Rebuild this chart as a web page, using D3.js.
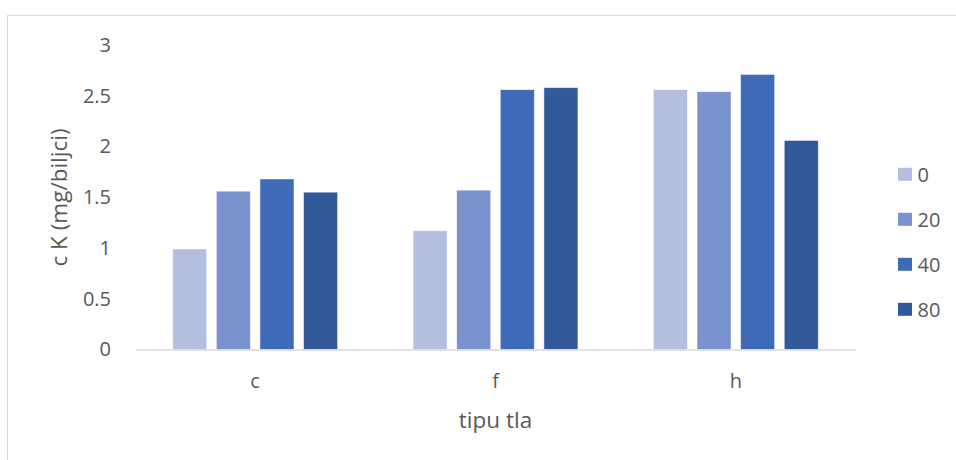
<!DOCTYPE html>
<html>
<head>
<meta charset="utf-8">
<script src="https://cdn.jsdelivr.net/npm/d3@7"></script>
<style>
  html, body { margin: 0; padding: 0; background: #fff; }
  svg { display: block; }
  text { font-family: "Open Sans", "Noto Sans", sans-serif; fill: #595959; }
</style>
</head>
<body>
<svg id="chart" width="956" height="460"></svg>
<script>
const categories = ["c", "f", "h"];
const seriesNames = ["0", "20", "40", "80"];
const series0 = [0.99, 1.17, 2.56];
const series20 = [1.56, 1.57, 2.54];
const series40 = [1.68, 2.56, 2.71];
const series80 = [1.55, 2.58, 2.06];
const yTicks = [0, 0.5, 1, 1.5, 2, 2.5, 3];
const colors = ["#B4BFDF", "#7A93CF", "#3F6AB7", "#325A9A"];

const seriesValues = [series0, series20, series40, series80];
const data = categories.map((c, i) => ({
  cat: c,
  vals: seriesNames.map((s, j) => ({ key: s, idx: j, value: seriesValues[j][i] }))
}));

const svg = d3.select("#chart");

// outer chart border
svg.append("rect")
  .attr("x", 7.5).attr("y", 15.5)
  .attr("width", 1000).attr("height", 500)
  .attr("fill", "none").attr("stroke", "#D9D9D9").attr("stroke-width", 1);

const mLeft = 135, mRight = 856, mTop = 45, mBottom = 349.5;

const y = d3.scaleLinear().domain([0, 3]).range([mBottom, mTop]);
const x0 = d3.scaleBand().domain(categories).range([mLeft, mRight])
  .paddingInner(0.314).paddingOuter(0.157);
const x1 = d3.scaleBand().domain(seriesNames).range([0, x0.bandwidth()])
  .paddingInner(0.22).paddingOuter(0);

// y axis labels
const yAxis = d3.axisLeft(y).tickValues(yTicks).tickFormat(d3.format("")).tickSize(0).tickPadding(0);
const gy = svg.append("g").attr("transform", `translate(${mLeft - 24},0)`).call(yAxis);
gy.select(".domain").remove();
gy.selectAll("text").attr("font-size", 20).attr("fill", "#595959")
  .style("font-family", '"Open Sans", sans-serif');

// bars
const groups = svg.append("g").selectAll("g").data(data).join("g")
  .attr("transform", d => `translate(${x0(d.cat)},0)`);
groups.selectAll("rect").data(d => d.vals).join("rect")
  .attr("x", d => x1(d.key))
  .attr("y", d => y(d.value))
  .attr("width", x1.bandwidth())
  .attr("height", d => y(0) - y(d.value))
  .attr("fill", d => colors[d.idx])
  .attr("stroke", "#ffffff").attr("stroke-opacity", 0.6).attr("stroke-width", 0.8);

// x axis
const xAxis = d3.axisBottom(x0).tickSize(0).tickPadding(0);
const gx = svg.append("g").attr("transform", `translate(0,${mBottom})`).call(xAxis);
gx.select(".domain").attr("stroke", "#D9D9D9").attr("stroke-width", 1.3);
gx.selectAll("text").attr("font-size", 20).attr("y", 38.5).attr("dy", 0).attr("fill", "#595959")
  .style("font-family", '"Open Sans", sans-serif');

// axis titles
svg.append("text")
  .attr("transform", `translate(67,197.5) rotate(-90)`)
  .attr("text-anchor", "middle")
  .attr("font-size", 22.5).text("c K (mg/biljci)");
svg.append("text")
  .attr("x", (mLeft + mRight) / 2).attr("y", 428)
  .attr("text-anchor", "middle")
  .attr("font-size", 22.5).text("tipu tla");

// legend
const legend = svg.append("g").selectAll("g").data(seriesNames).join("g")
  .attr("transform", (d, i) => `translate(898,${174.3 + i * 45})`);
legend.append("rect").attr("x", 0).attr("y", -6.5).attr("width", 14).attr("height", 13)
  .attr("fill", (d, i) => colors[i]);
legend.append("text").attr("x", 19.5).attr("y", 7.4)
  .attr("font-size", 20).text(d => d);
</script>
</body>
</html>
